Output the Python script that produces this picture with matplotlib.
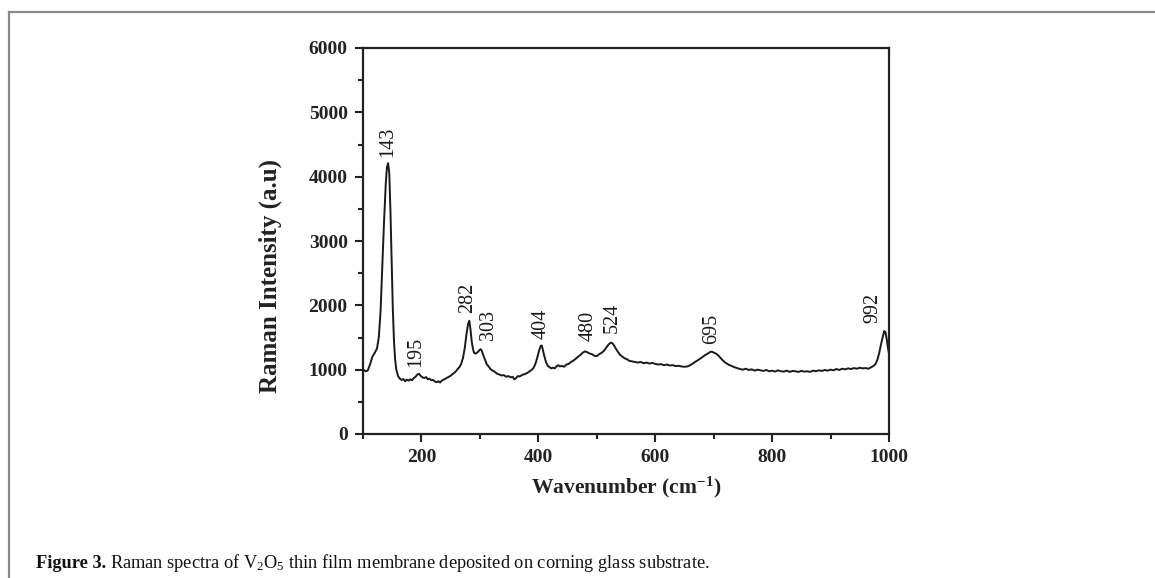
import matplotlib
matplotlib.use('Agg')
import matplotlib.pyplot as plt
from matplotlib.ticker import MultipleLocator
from matplotlib.lines import Line2D

plt.rcParams['font.family'] = ['Liberation Serif', 'DejaVu Serif']
plt.rcParams['mathtext.fontset'] = 'custom'
plt.rcParams['mathtext.rm'] = 'Liberation Serif'
plt.rcParams['mathtext.bf'] = 'Liberation Serif:bold'
plt.rcParams['mathtext.default'] = 'regular'

# Raman spectrum (wavenumber cm-1, intensity a.u.)
wavenumber = [100, 104, 108, 112, 116, 120, 124, 127, 130, 133, 136, 139, 141, 143, 145,
              147, 149, 151, 153, 155, 157, 160, 163, 166, 169, 172, 175, 178, 181, 184,
              187, 190, 193, 196, 199, 202, 205, 208, 211, 214, 217, 220, 223, 226, 229,
              232, 235, 238, 241, 244, 247, 250, 253, 256, 259, 262, 265, 268, 271, 274,
              277, 280, 282, 284, 286, 288, 290, 293, 296, 299, 301, 303, 306, 309, 312,
              315, 318, 321, 325, 329, 333, 337, 341, 345, 349, 353, 356, 359, 362, 365,
              368, 371, 374, 377, 380, 383, 386, 389, 392, 395, 398, 401, 404, 406, 408,
              410, 413, 416, 419, 422, 425, 428, 431, 434, 437, 440, 444, 448, 452, 456,
              460, 464, 468, 472, 476, 480, 484, 488, 492, 496, 500, 504, 508, 512, 516,
              520, 524, 527, 530, 533, 536, 540, 544, 548, 552, 556, 560, 565, 570, 575,
              580, 585, 590, 595, 600, 605, 610, 615, 620, 625, 630, 635, 640, 645, 650,
              655, 660, 665, 670, 675, 680, 685, 690, 694, 697, 700, 704, 708, 712, 716,
              720, 725, 730, 735, 740, 745, 750, 755, 760, 765, 770, 775, 780, 785, 790,
              795, 800, 805, 810, 815, 820, 825, 830, 835, 840, 845, 850, 855, 860, 865,
              870, 875, 880, 885, 890, 895, 900, 905, 910, 915, 920, 925, 930, 935, 940,
              945, 950, 955, 960, 965, 970, 974, 977, 980, 983, 986, 989, 992, 994, 996,
              998, 1000]
intensity = [1010, 975, 985, 1080, 1200, 1260, 1330, 1500, 1900, 2600, 3300, 3900, 4150, 4210, 4050,
             3450, 2700, 1950, 1450, 1150, 1000, 900, 860, 840, 855, 820, 845, 830, 850, 835,
             870, 890, 925, 935, 900, 880, 870, 885, 850, 860, 835, 840, 815, 805, 820,
             800, 830, 845, 860, 875, 890, 905, 930, 950, 975, 1010, 1040, 1090, 1180, 1330,
             1550, 1720, 1760, 1620, 1440, 1330, 1260, 1250, 1270, 1300, 1320, 1300, 1220, 1150, 1080,
             1050, 1010, 990, 970, 940, 925, 910, 915, 890, 900, 880, 890, 850, 870, 900,
             895, 910, 925, 930, 945, 960, 980, 1000, 1030, 1090, 1180, 1290, 1370, 1375, 1300,
             1220, 1120, 1060, 1040, 1020, 1030, 1020, 1050, 1070, 1050, 1060, 1045, 1080, 1090, 1120,
             1140, 1170, 1200, 1230, 1265, 1285, 1270, 1250, 1240, 1215, 1210, 1240, 1260, 1290, 1340,
             1390, 1420, 1410, 1370, 1320, 1280, 1230, 1200, 1175, 1160, 1135, 1130, 1120, 1110, 1120,
             1100, 1110, 1095, 1105, 1090, 1080, 1085, 1070, 1080, 1065, 1070, 1055, 1060, 1050, 1045,
             1050, 1070, 1100, 1130, 1160, 1190, 1225, 1250, 1275, 1280, 1265, 1250, 1220, 1180, 1140,
             1110, 1080, 1060, 1040, 1025, 1010, 1000, 1015, 995, 1005, 985, 1000, 990, 980, 995,
             975, 985, 970, 990, 975, 970, 985, 965, 980, 975, 965, 980, 970, 975, 965,
             985, 975, 990, 980, 995, 985, 1000, 990, 1010, 995, 1015, 1005, 1020, 1010, 1025,
             1015, 1030, 1020, 1025, 1015, 1040, 1060, 1090, 1150, 1250, 1380, 1500, 1600, 1580, 1480,
             1350, 1250]

# peak annotations: text, x of label, bottom of label (intensity units)
peak_text = ['143', '195', '282', '303', '404', '480', '524', '695', '992']
peak_label_x = [143, 191, 279, 315, 404, 485, 527, 696, 972]
peak_label_y = [4300, 1040, 1876, 1461, 1470, 1450, 1565, 1395, 1721]

fig = plt.figure(figsize=(11.55, 5.78), dpi=100)
ax = fig.add_axes([363 / 1155, 1 - 434 / 578, 526 / 1155, 386 / 578])

ax.plot(wavenumber, intensity, color='#1a1a1a', lw=1.4)

for t, px, py in zip(peak_text, peak_label_x, peak_label_y):
    ax.text(px, py, t, rotation=90, ha='center', va='bottom', fontsize=14.5, color='#1a1a1a')

ax.set_xlim(100, 1000)
ax.set_ylim(0, 6000)
ax.xaxis.set_major_locator(MultipleLocator(200))
ax.xaxis.set_minor_locator(MultipleLocator(100))
ax.yaxis.set_major_locator(MultipleLocator(1000))
ax.yaxis.set_minor_locator(MultipleLocator(500))
ax.tick_params(which='both', direction='out', width=1.5, color='#222222',
               labelsize=14, labelcolor='#222222')
ax.tick_params(which='major', length=6, pad=5)
ax.tick_params(which='minor', length=3.5)
for lab in ax.get_xticklabels() + ax.get_yticklabels():
    lab.set_fontweight('bold')
for s in ax.spines.values():
    s.set_linewidth(1.6)
    s.set_color('#222222')

ax.set_xlabel('Wavenumber (cm$^{-1}$)', fontsize=15.5, fontweight='bold', color='#222222', labelpad=6)
ax.set_ylabel('Raman Intensity (a.u)', fontsize=18, fontweight='bold', color='#222222')
ax.yaxis.set_label_coords(-0.154, 0.41)

# page frame lines
fig.add_artist(Line2D([9 / 1155, 1], [1 - 12 / 578, 1 - 12 / 578], transform=fig.transFigure,
                      color='#8a8a8a', lw=1.6))
fig.add_artist(Line2D([9 / 1155, 9 / 1155], [0, 1 - 12 / 578], transform=fig.transFigure,
                      color='#8a8a8a', lw=1.6))

# caption
r = fig.canvas.get_renderer()
cap_y = 1 - 563 / 578
t1 = fig.text(36 / 1155, cap_y, 'Figure 3.', fontsize=13.2, fontweight='bold', va='center', color='#111111')
bb = t1.get_window_extent(renderer=r)
fig.text((bb.x1 + 4) / 1155, cap_y,
         'Raman spectra of V$_2$O$_5$ thin film membrane deposited on corning glass substrate.',
         fontsize=13.2, va='center', color='#111111')

fig.savefig('out.png', dpi=100)
